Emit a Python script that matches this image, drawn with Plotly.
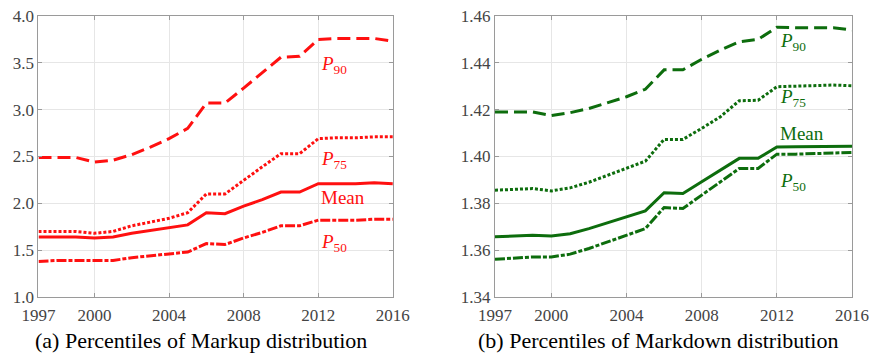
import plotly.graph_objects as go

years = list(range(1997, 2017))

# Markup percentiles (panel a)
markup_p90 = [2.49, 2.49, 2.49, 2.44, 2.46, 2.52, 2.60, 2.69, 2.80, 3.07, 3.07, 3.23, 3.39, 3.56, 3.57, 3.75, 3.76, 3.76, 3.76, 3.73]
markup_p75 = [1.70, 1.70, 1.70, 1.68, 1.70, 1.76, 1.80, 1.84, 1.90, 2.10, 2.10, 2.25, 2.39, 2.53, 2.53, 2.69, 2.70, 2.70, 2.71, 2.71]
markup_mean = [1.64, 1.64, 1.64, 1.63, 1.64, 1.68, 1.71, 1.74, 1.77, 1.90, 1.89, 1.97, 2.04, 2.12, 2.12, 2.21, 2.21, 2.21, 2.22, 2.21]
markup_p50 = [1.38, 1.39, 1.39, 1.39, 1.39, 1.42, 1.44, 1.46, 1.48, 1.57, 1.56, 1.63, 1.69, 1.76, 1.76, 1.82, 1.82, 1.82, 1.83, 1.83]

# Markdown percentiles (panel b)
markdown_p90 = [1.419, 1.419, 1.419, 1.4175, 1.4187, 1.4205, 1.423, 1.4255, 1.4287, 1.437, 1.437, 1.4415, 1.4455, 1.449, 1.450, 1.4552, 1.455, 1.455, 1.455, 1.454]
markdown_p75 = [1.3856, 1.386, 1.3863, 1.3853, 1.3866, 1.389, 1.392, 1.3949, 1.398, 1.4073, 1.4073, 1.412, 1.417, 1.4238, 1.424, 1.4298, 1.430, 1.430, 1.4305, 1.4302]
markdown_mean = [1.3657, 1.3662, 1.3664, 1.366, 1.367, 1.3692, 1.3717, 1.3742, 1.3768, 1.3845, 1.3842, 1.3892, 1.3942, 1.3992, 1.3992, 1.4041, 1.4042, 1.4043, 1.4045, 1.4044]
markdown_p50 = [1.3561, 1.3567, 1.3571, 1.3571, 1.3583, 1.3607, 1.3635, 1.3664, 1.3692, 1.3782, 1.3778, 1.3835, 1.3892, 1.3949, 1.3949, 1.401, 1.401, 1.4012, 1.4015, 1.4017]

x_tickvals = [1997, 2000, 2004, 2008, 2012, 2016]
x_ticktext = ["1997", "2000", "2004", "2008", "2012", "2016"]
left_yticks = [1.0, 1.5, 2.0, 2.5, 3.0, 3.5, 4.0]
left_yticktext = ["1.0", "1.5", "2.0", "2.5", "3.0", "3.5", "4.0"]
right_yticks = [1.34, 1.36, 1.38, 1.40, 1.42, 1.44, 1.46]
right_yticktext = ["1.34", "1.36", "1.38", "1.40", "1.42", "1.44", "1.46"]

left_labels = ["<i>P</i><sub>90</sub>", "<i>P</i><sub>75</sub>", "Mean", "<i>P</i><sub>50</sub>"]
left_label_y = [3.48, 2.46, 2.06, 1.58]
right_labels = ["<i>P</i><sub>90</sub>", "<i>P</i><sub>75</sub>", "Mean", "<i>P</i><sub>50</sub>"]
right_label_y = [1.449, 1.4248, 1.410, 1.3892]
label_x = 2012.05

captions = ["(a) Percentiles of Markup distribution", "(b) Percentiles of Markdown distribution"]

RED = "#ff1010"
GREEN = "#0d6d0d"
FONT = "Liberation Serif"

dash_p90 = "13px,6px"
dash_p75 = "3px,2px"
dash_p50 = "10px,2px,4px,2px"

fig = go.Figure()

def add_series(ys, dash, color, xa, ya):
    fig.add_trace(go.Scatter(x=years, y=ys, mode="lines", xaxis=xa, yaxis=ya,
                             line=dict(color=color, width=3, dash=dash), showlegend=False))

add_series(markup_p90, dash_p90, RED, "x", "y")
add_series(markup_p75, dash_p75, RED, "x", "y")
add_series(markup_mean, "solid", RED, "x", "y")
add_series(markup_p50, dash_p50, RED, "x", "y")

add_series(markdown_p90, dash_p90, GREEN, "x2", "y2")
add_series(markdown_p75, dash_p75, GREEN, "x2", "y2")
add_series(markdown_mean, "solid", GREEN, "x2", "y2")
add_series(markdown_p50, dash_p50, GREEN, "x2", "y2")

annotations = []
for t, y in zip(left_labels, left_label_y):
    annotations.append(dict(x=label_x, y=y, xref="x", yref="y", text=t, showarrow=False,
                            xanchor="left", yanchor="middle", font=dict(family=FONT, size=19, color=RED)))
for t, y in zip(right_labels, right_label_y):
    annotations.append(dict(x=label_x, y=y, xref="x2", yref="y2", text=t, showarrow=False,
                            xanchor="left", yanchor="middle", font=dict(family=FONT, size=19, color=GREEN)))
annotations.append(dict(x=0.230, y=0.042, xref="paper", yref="paper", text=captions[0], showarrow=False,
                        xanchor="center", yanchor="middle", font=dict(family=FONT, size=22, color="black")))
annotations.append(dict(x=0.754, y=0.042, xref="paper", yref="paper", text=captions[1], showarrow=False,
                        xanchor="center", yanchor="middle", font=dict(family=FONT, size=22, color="black")))

axis_common = dict(showline=True, linecolor="#9a9a9a", linewidth=1, mirror="ticks",
                   showgrid=True, gridcolor="#e6e6e6", gridwidth=1, zeroline=False,
                   ticks="inside", ticklen=4, tickcolor="#9a9a9a", automargin=False,
                   tickfont=dict(family=FONT, size=17, color="#444444"))

fig.update_layout(
    width=873, height=355,
    margin=dict(l=0, r=0, t=0, b=0),
    paper_bgcolor="white", plot_bgcolor="white",
    xaxis=dict(domain=[0.0441, 0.450], range=[1997, 2016], tickvals=x_tickvals, ticktext=x_ticktext,
               anchor="y", ticklabelstandoff=3, **axis_common),
    yaxis=dict(domain=[0.1634, 0.955], range=[1.0, 4.0], tickvals=left_yticks, ticktext=left_yticktext,
               anchor="x", **axis_common),
    xaxis2=dict(domain=[0.567, 0.976], range=[1997, 2016], tickvals=x_tickvals, ticktext=x_ticktext,
                anchor="y2", ticklabelstandoff=3, **axis_common),
    yaxis2=dict(domain=[0.1634, 0.955], range=[1.34, 1.46], tickvals=right_yticks, ticktext=right_yticktext,
                anchor="x2", **axis_common),
    annotations=annotations,
)

fig.write_html("out.html", config={"displayModeBar": False},
               post_script="document.body.style.margin='0';document.body.style.padding='0';document.body.style.overflow='hidden';")
